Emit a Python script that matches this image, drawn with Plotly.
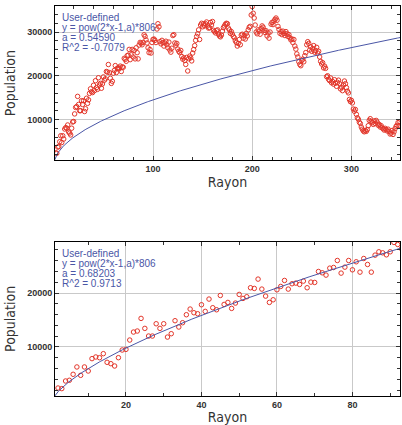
import numpy as np
import plotly.graph_objects as go
from plotly.subplots import make_subplots

# Population by radius (Rayon), x = 2..349
rayon = list(range(2, 350))
population = [
    # 2-93
    2400, 2290, 3700, 3830, 4940, 6300, 4750, 6300, 5550,
    7840, 8150, 8020, 8760, 7160, 6910, 6480, 8020, 9440, 9560,
    11290, 12770, 12960, 15300, 13450, 12030, 12030, 14310, 13450, 14310,
    11840, 12460, 14870, 13700, 14500, 15980, 17030, 16350, 16160, 17830,
    16600, 18880, 17280, 16900, 19550, 17890, 18260, 17150, 18140, 19740,
    19000, 19310, 20980, 20850, 22580, 20730, 19430, 18260, 18750, 20600,
    21220, 22330, 20730, 21720, 21840, 21590, 22210, 20980, 22020, 21960,
    23990, 23750, 23320, 24610, 24730, 26030, 23690, 24800, 26030, 24300,
    25790, 23870, 26400, 25290, 23870, 27020, 27640, 27450, 27080, 27640,
    29370, 29000, 28200,
    # 94-100
    27500, 26400, 25300, 26000, 25200, 27600, 28300,
    28400, 28100, 27600, 30700, 31900, 31200, 27800, 27300, 28100, 27600,
    26800, 27500, 27900, 27100, 26400, 27700, 25900, 25400, 26300, 29200,
    29400, 27500, 27000, 27400, 26100, 25600, 25300, 25800, 24400, 23800,
    24100, 23500, 22600, 24200, 21100, 23900, 24500, 24100, 23400, 25200,
    26000, 26900, 28100, 29000, 29600, 30500, 28300, 31600, 32000, 31200,
    31900, 31400, 31900, 32300, 31400, 30900, 31000, 32200, 31600, 32400,
    30400, 30100, 29800, 30300, 30500, 29500, 29100, 28900, 29300, 30200,
    31000, 31400, 31800, 32000, 31900, 30900, 30500, 29700, 30100, 29500,
    29000, 28700, 28000, 27600, 26800, 27400, 28300, 27100, 29300, 29500,
    28600, 29200, 28400, 29700, 29100, 30500, 31100, 31300, 33900, 35800,
    34300, 33200, 31600, 30000, 29600, 30500, 30200, 29500, 30800, 31400,
    31100, 30400, 29900, 30300, 29100, 29800, 28600, 30000, 31800, 32200,
    31700, 32500, 32900, 33200, 32700, 31300, 30600, 29700, 30100, 29400,
    30200, 29700, 29200, 30100, 29600, 29000, 29400, 28700, 28200, 28400,
    27600, 28300, 26800, 26100, 25000, 24300, 23200, 22600, 22300, 23500,
    23800, 23200, 24600, 25300, 27100, 27800, 27400, 25900, 26600, 25600,
    26200, 26900, 25400, 25800, 26500, 25200, 25600, 24300, 23300, 22700,
    23000, 21800, 22200, 21700, 19800, 20000, 19200, 18900, 19500, 18400,
    18700, 18100, 19100, 18300, 17600, 18500, 19000, 18200, 17000, 17400,
    16600, 17900, 18800, 18200, 17300, 16500, 16100, 14600, 14100, 14400,
    13800, 12400, 11900, 12300, 11200, 10400, 10100, 9400, 9100, 8300,
    7800, 7400, 7200, 7500, 7300, 7700, 8600, 9800, 10200, 9600,
    9300, 8900, 9700, 9100, 9800, 9400, 8700, 8900, 8300, 8600,
    8100, 7900, 7600, 8000, 7700, 7400, 7800, 7300, 6700, 6900,
    7500, 6600, 7200, 7900, 8400, 8700, 9300, 8600, 9500,
]

# second panel uses the first part of the same data
n_sub = 92  # x = 2..93
fit_labels = ["User-defined", "y = pow(2*x-1,a)*806"]
fit_a = [0.54590, 0.68203]
fit_r2 = ["-0.7079", "0.9713"]
x_max = [349, 92.6]
y_ranges = [[700, 35950], [920, 29500]]
x_ticks = [[100, 200, 300], [20, 40, 60, 80]]
x_minor = [20, 10]

RED = "#e3362a"
BLUE = "#4a56a6"
GRID = "#c9c9c9"
TITLE_FONT = dict(family="DejaVu Sans Condensed, Liberation Sans", size=14, color="#333")

fig = make_subplots(rows=2, cols=1, vertical_spacing=0.209)

for i in range(2):
    xs = rayon if i == 0 else rayon[:n_sub]
    ys = population if i == 0 else population[:n_sub]
    row = i + 1
    fig.add_trace(go.Scatter(
        x=xs, y=ys, mode="markers",
        marker=dict(symbol="circle-open", size=4.5, color=RED, line=dict(width=1, color=RED)),
        showlegend=False, hoverinfo="skip",
    ), row=row, col=1)

    # fitted curve from the formula shown in the chart
    xf = np.linspace(1, x_max[i], 400)
    yf = np.power(2 * xf - 1, fit_a[i]) * 806
    fig.add_trace(go.Scatter(
        x=xf, y=yf, mode="lines", line=dict(color=BLUE, width=1),
        showlegend=False, hoverinfo="skip",
    ), row=row, col=1)

    lines = fit_labels + [f"a = {fit_a[i]:.5f}", f"R^2 = {fit_r2[i]}"]
    xref = "x domain" if i == 0 else "x2 domain"
    yref = "y domain" if i == 0 else "y2 domain"
    for k, txt in enumerate(lines):
        fig.add_annotation(
            text=txt, xref=xref, yref=yref, x=0, y=1, xanchor="left", yanchor="top",
            xshift=5, yshift=-4 - 10 * k, showarrow=False,
            font=dict(family="Liberation Sans, Arial", size=10, color=BLUE),
        )

    axis_common = dict(
        showline=True, linecolor="black", linewidth=1, mirror="allticks",
        ticks="inside", ticklen=4, tickcolor="#333", showgrid=True, gridcolor=GRID,
        gridwidth=1, zeroline=False, tickformat="d",
        tickfont=dict(family="Liberation Sans, Arial", size=9, color="#333", weight="bold"),
    )
    fig.update_xaxes(
        range=[1.2, x_max[i]], tickvals=x_ticks[i],
        minor=dict(ticks="inside", ticklen=3, dtick=x_minor[i], tick0=0, tickcolor="#333", showgrid=False),
        title=dict(text="Rayon", standoff=4, font=TITLE_FONT),
        row=row, col=1, **axis_common,
    )
    fig.update_yaxes(
        range=y_ranges[i], dtick=10000, tick0=0,
        minor=dict(ticks="inside", ticklen=3, dtick=2000, tick0=0, tickcolor="#333", showgrid=False),
        title=dict(text="Population", standoff=8, font=TITLE_FONT),
        row=row, col=1, **axis_common,
    )

fig.update_layout(
    width=402, height=425,
    margin=dict(l=55, r=1, t=6, b=27),
    paper_bgcolor="white", plot_bgcolor="white",
)

fig.write_html("out.html", config={"displayModeBar": False},
               post_script="document.body.style.margin='0px';")
